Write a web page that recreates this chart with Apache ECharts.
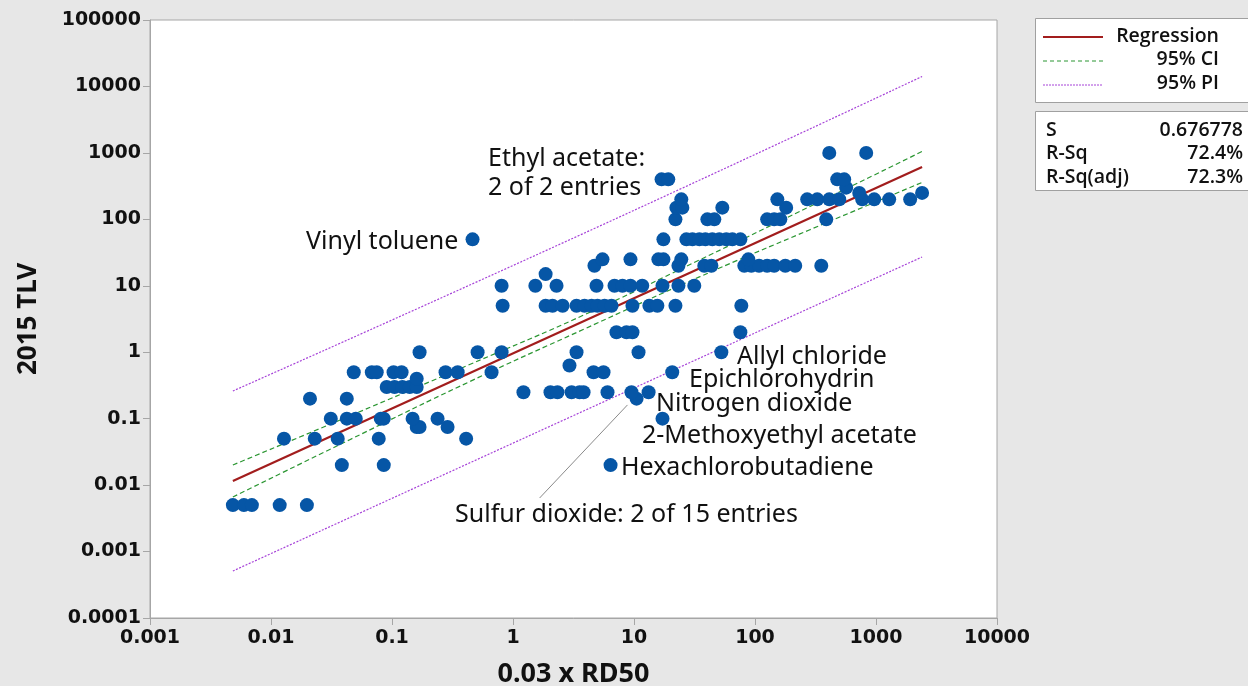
<!DOCTYPE html>
<html>
<head>
<meta charset="utf-8">
<script src="https://cdn.jsdelivr.net/npm/echarts@6/dist/echarts.min.js"></script>
<style>
html,body{margin:0;padding:0;background:#e7e7e7;}
#c{width:1248px;height:686px;}
</style>
</head>
<body>
<div id="c"></div>
<script>
// TLV levels (y) and the RD50*0.03 values (x) of the points on each level
const tlvLevels = [0.005, 0.02, 0.05, 0.075, 0.1, 0.2, 0.25, 0.3, 0.4, 0.5, 0.63, 1, 2, 5, 10, 15, 20, 25, 50, 100, 150, 200, 250, 300, 400, 1000];
const rd50AtLevel = [
  [0.00484, 0.00597, 0.00695, 0.0118, 0.0198],
  [0.0385, 0.0855, 6.40],
  [0.0128, 0.0230, 0.0356, 0.0777, 0.41],
  [0.160, 0.169, 0.288],
  [0.0312, 0.0423, 0.0502, 0.0808, 0.0855, 0.148, 0.238, 17.2],
  [0.0210, 0.0423, 10.5],
  [1.22, 2.04, 2.33, 3.05, 3.55, 3.83, 6.04, 9.53, 13.2],
  [0.0904, 0.105, 0.122, 0.140, 0.160],
  [0.160],
  [0.0483, 0.0681, 0.0748, 0.103, 0.120, 0.277, 0.349, 0.665, 4.63, 5.60, 20.7],
  [2.93],
  [0.169, 0.510, 0.805, 3.35, 10.9, 52.7],
  [7.16, 8.67, 9.71, 75.7],
  [0.821, 1.86, 2.12, 2.57, 3.35, 3.90, 4.46, 4.99, 5.71, 6.52, 9.71, 13.4, 15.6, 22.0, 77.1],
  [0.805, 1.53, 2.29, 4.90, 6.90, 8.03, 9.35, 11.7, 17.2, 23.3, 31.5],
  [1.86],
  [4.71, 23.3, 38.1, 43.6, 81.6, 93.2, 108, 126, 144, 178, 215, 353],
  [5.49, 9.35, 15.9, 17.5, 24.6, 88.1],
  [0.463, 17.5, 27.1, 30.4, 34.7, 38.9, 44.4, 50.7, 57.9, 65.0, 75.7],
  [22.0, 40.4, 46.1, 126, 144, 162, 388],
  [22.4, 25.1, 53.7, 181],
  [24.6, 153, 270, 327, 411, 497, 769, 966, 1285, 1916],
  [727, 2404],
  [567],
  [16.9, 19.2, 478, 546],
  [411, 830]
];
// Fitted line, confidence and prediction bands
const regression = [[0.00484, 0.0115], [2404, 614]];
const bandX = [0.00484, 0.0448, 0.438, 3.90, 34.7, 281, 2404];
const ciUpper = [0.0201, 0.110, 0.652, 3.67, 24.4, 154.5, 1050];
const ciLower = [0.00662, 0.0483, 0.361, 2.245, 13.6, 69.2, 359];
const piX = [0.00484, 3.90, 2404];
const piUpper = [0.261, 62.3, 14130];
const piLower = [0.00051, 0.1325, 27.1];
const leaderLine = [[8.83, 0.161], [1.66, 0.0064]];
const statNames = ['S', 'R-Sq', 'R-Sq(adj)'];
const statValues = ['0.676778', '72.4%', '72.3%'];
const legendNames = ['Regression', '95% CI', '95% PI'];

const points = [];
tlvLevels.forEach((y, i) => rd50AtLevel[i].forEach(x => points.push([x, y])));
const zip = (xs, ys) => xs.map((x, i) => [x, ys[i]]);

const fmt = v => { const e = Math.round(Math.log10(v)); return e >= 0 ? String(Math.pow(10, e)) : Math.pow(10, e).toFixed(-e); };

const RED = '#a21d1d', GREEN = '#2b9632', PURPLE = '#a642d8', BLUE = '#0656a6';
const tickFont = {fontFamily: 'DejaVu Sans', fontWeight: 'bold', fontSize: 19, color: '#111'};
const annFont = 'Noto Sans';
const boxFont = '600 19.5px "Open Sans"';

const chart = echarts.init(document.getElementById('c'));
const ann = (text, x, y) => ({type: 'text', x: x, y: y, style: {text, font: '25px "' + annFont + '"', fill: '#111', textVerticalAlign: 'middle'}});
const graphics = [
  ann('Ethyl acetate:', 488, 159), ann('2 of 2 entries', 488, 188),
  ann('Vinyl toluene', 306, 242), ann('Allyl chloride', 737, 357),
  ann('Epichlorohydrin', 689, 380), ann('Nitrogen dioxide', 656, 404),
  ann('2-Methoxyethyl acetate', 642, 436), ann('Hexachlorobutadiene', 621, 468),
  ann('Sulfur dioxide: 2 of 15 entries', 455, 515),
  {type: 'rect', shape: {x: 1035.5, y: 18.5, width: 230, height: 84}, style: {fill: '#fff', stroke: '#a0a0a0', lineWidth: 1}},
  {type: 'rect', shape: {x: 1035.5, y: 111.5, width: 230, height: 79}, style: {fill: '#fff', stroke: '#a0a0a0', lineWidth: 1}},
  {type: 'line', shape: {x1: 1043, y1: 37, x2: 1103, y2: 37}, style: {stroke: RED, lineWidth: 2}},
  {type: 'line', shape: {x1: 1043, y1: 61, x2: 1103, y2: 61}, style: {stroke: GREEN, lineWidth: 1, lineDash: [4, 3]}},
  {type: 'line', shape: {x1: 1043, y1: 85, x2: 1103, y2: 85}, style: {stroke: PURPLE, lineWidth: 1, lineDash: [2, 1]}}
];
legendNames.forEach((t, i) => graphics.push({type: 'text', x: 1219, y: 36 + i * 23.5, style: {text: t, font: boxFont, fill: '#111', textAlign: 'right', textVerticalAlign: 'middle'}}));
statNames.forEach((t, i) => {
  graphics.push({type: 'text', x: 1046, y: 130 + i * 23.5, style: {text: t, font: boxFont, fill: '#111', textAlign: 'left', textVerticalAlign: 'middle'}});
  graphics.push({type: 'text', x: 1243, y: 130 + i * 23.5, style: {text: statValues[i], font: boxFont, fill: '#111', textAlign: 'right', textVerticalAlign: 'middle'}});
});

chart.setOption({
  backgroundColor: '#e7e7e7',
  animation: false,
  grid: {left: 150, right: 251, top: 20, bottom: 68, outerBoundsMode: 'none', containLabel: false, show: true, backgroundColor: '#fff', borderColor: '#a6a6a6', borderWidth: 1},
  xAxis: {
    type: 'log', logBase: 10, min: 0.001, max: 10000, splitNumber: 10,
    name: '0.03 x RD50', nameLocation: 'middle', nameGap: 43,
    nameTextStyle: {fontFamily: 'Noto Sans', fontWeight: 'bold', fontSize: 27, color: '#111'},
    axisLine: {show: true, lineStyle: {color: '#a6a6a6'}},
    axisTick: {show: true, length: 7, lineStyle: {color: '#a6a6a6'}},
    minorTick: {show: false}, splitLine: {show: false},
    axisLabel: Object.assign({margin: 11, formatter: fmt}, tickFont)
  },
  yAxis: {
    type: 'log', logBase: 10, min: 0.0001, max: 100000, splitNumber: 10,
    name: '2015 TLV', nameLocation: 'middle', nameGap: 108, nameRotate: 90,
    nameTextStyle: {fontFamily: 'Noto Sans', fontWeight: 'bold', fontSize: 26, color: '#111'},
    axisLine: {show: true, lineStyle: {color: '#a6a6a6'}},
    axisTick: {show: true, length: 7, lineStyle: {color: '#a6a6a6'}},
    minorTick: {show: false}, splitLine: {show: false},
    axisLabel: Object.assign({margin: 9, formatter: fmt}, tickFont)
  },
  graphic: graphics,
  series: [
    {type: 'line', data: zip(piX, piUpper), smooth: true, symbol: 'none', lineStyle: {color: PURPLE, width: 1.2, type: [2, 1.5]}, z: 2},
    {type: 'line', data: zip(piX, piLower), smooth: true, symbol: 'none', lineStyle: {color: PURPLE, width: 1.2, type: [2, 1.5]}, z: 2},
    {type: 'line', data: zip(bandX, ciUpper), smooth: true, symbol: 'none', lineStyle: {color: GREEN, width: 1.2, type: [5, 3]}, z: 2},
    {type: 'line', data: zip(bandX, ciLower), smooth: true, symbol: 'none', lineStyle: {color: GREEN, width: 1.2, type: [5, 3]}, z: 2},
    {type: 'line', data: regression, symbol: 'none', lineStyle: {color: RED, width: 2.2}, z: 2},
    {type: 'line', data: leaderLine, symbol: 'none', lineStyle: {color: '#8a8a8a', width: 1}, z: 2},
    {type: 'scatter', data: points, symbol: 'circle', symbolSize: 14, itemStyle: {color: BLUE, opacity: 1}, z: 3}
  ]
});
</script>
</body>
</html>
